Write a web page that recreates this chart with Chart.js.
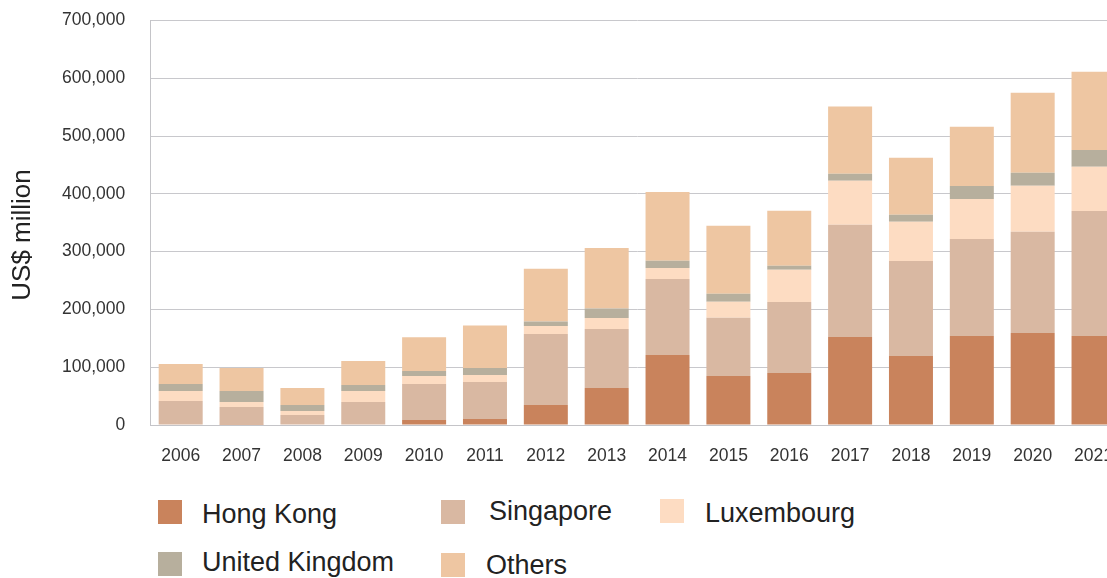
<!DOCTYPE html>
<html>
<head>
<meta charset="utf-8">
<script src="https://cdn.jsdelivr.net/npm/chart.js@4"></script>
<style>
  body { margin: 0; background: #fff; overflow: hidden; font-family: "Liberation Sans", Arial, sans-serif; }
  #wrap { position: absolute; left: 0; top: -15px; width: 1126px; height: 495px; }
  .sw { position: absolute; width: 24px; height: 24px; }
  .lbl { position: absolute; font-size: 27px; line-height: 27px; color: #222; white-space: nowrap; }
</style>
</head>
<body>
<div id="wrap"><canvas id="chart"></canvas></div>
<div id="legend"></div>
<script>
const years = ["2006","2007","2008","2009","2010","2011","2012","2013","2014","2015","2016","2017","2018","2019","2020","2021"];

// US$ million
const hongKong   = [1000, 300, 1000, 1000, 8700, 10400, 34600, 64000, 121000, 85000, 90000, 152400, 119500, 154000, 159400, 154000];
const singapore  = [40600, 30900, 16300, 38800, 62300, 64100, 123000, 102200, 131700, 100400, 123000, 194000, 164500, 168000, 175000, 216500];
const luxembourg = [17300, 8600, 6900, 19100, 13900, 12100, 13900, 19000, 19000, 27700, 55500, 76200, 67600, 69300, 79700, 76200];
const unitedKingdom = [12100, 19100, 10400, 10400, 8600, 12100, 7500, 16200, 12700, 13900, 6900, 12200, 12100, 22500, 22500, 29400];
const others     = [34700, 39800, 29500, 41600, 58500, 73300, 91200, 105100, 119000, 117800, 95300, 116200, 98800, 102200, 138500, 135100];

const seriesNames = ["Hong Kong", "Singapore", "Luxembourg", "United Kingdom", "Others"];
const seriesData = [hongKong, singapore, luxembourg, unitedKingdom, others];
const colors = ["#C9835C", "#D9B8A2", "#FDDCC2", "#B7AF9D", "#EEC6A2"];

const yTicks = [0, 100000, 200000, 300000, 400000, 500000, 600000, 700000];

// legend layout: [swatch x, swatch y, text x, text y]
const legendPos = [
  [158, 500, 202, 501],
  [441, 500, 489, 498],
  [660, 499, 705, 500],
  [158, 552, 202, 549],
  [441, 553, 486, 552]
];

const legend = document.getElementById("legend");
seriesNames.forEach((name, i) => {
  const p = legendPos[i];
  const sw = document.createElement("div");
  sw.className = "sw";
  sw.style.left = p[0] + "px";
  sw.style.top = p[1] + "px";
  sw.style.background = colors[i];
  legend.appendChild(sw);
  const t = document.createElement("div");
  t.className = "lbl";
  t.style.left = p[2] + "px";
  t.style.top = p[3] + "px";
  t.textContent = name;
  legend.appendChild(t);
});

// canvas sits 15px above the page, so y positions here are +15
const yTitle = {
  id: "yTitle",
  afterDraw(chart) {
    const ctx = chart.ctx;
    ctx.save();
    ctx.translate(23, 250);
    ctx.rotate(-Math.PI / 2);
    ctx.font = '26px "Liberation Sans", Arial, sans-serif';
    ctx.fillStyle = "#222";
    ctx.textAlign = "center";
    ctx.textBaseline = "middle";
    ctx.fillText("US$ million", 0, 0);
    ctx.restore();
  }
};

const font = { family: '"Liberation Sans", Arial, sans-serif', size: 17.5 };

new Chart(document.getElementById("chart"), {
  type: "bar",
  data: {
    labels: years,
    datasets: seriesNames.map((name, i) => ({
      label: name,
      data: seriesData[i],
      backgroundColor: colors[i],
      borderWidth: 0,
      barPercentage: 0.723,
      categoryPercentage: 1
    }))
  },
  options: {
    responsive: true,
    maintainAspectRatio: false,
    animation: false,
    layout: { padding: { left: 37, top: 0, right: 0, bottom: 0 } },
    plugins: { legend: { display: false }, tooltip: { enabled: false } },
    scales: {
      x: {
        stacked: true,
        grid: { display: false },
        border: { display: true, color: "#c4c4c8" },
        ticks: { font: font, color: "#333", padding: 13, maxRotation: 0, autoSkip: false }
      },
      y: {
        stacked: true,
        min: 0,
        max: 700000,
        afterBuildTicks(axis) { axis.ticks = yTicks.map(v => ({ value: v })); },
        grid: { color: "#c8c8cc", drawTicks: false },
        border: { display: true, color: "#c4c4c8" },
        ticks: {
          font: font,
          color: "#333",
          padding: 25,
          callback: v => v.toLocaleString("en-US")
        }
      }
    }
  },
  plugins: [yTitle]
});
</script>
</body>
</html>
